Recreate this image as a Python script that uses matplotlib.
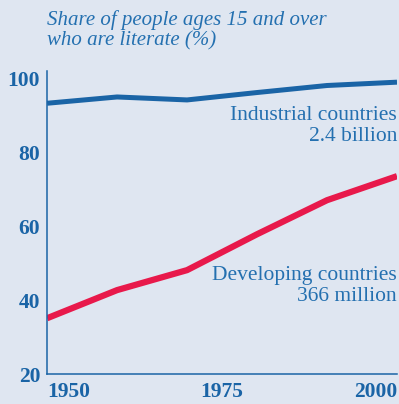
import matplotlib
matplotlib.use("Agg")
import matplotlib.pyplot as plt

years = [1950, 1960, 1970, 1980, 1990, 2000]
industrial = [93.2, 94.9, 94.1, 96.1, 98.0, 98.9]
developing = [35.1, 42.7, 48.1, 57.8, 67.0, 73.5]
y_ticks = [20, 40, 60, 80, 100]
x_ticks = [1950, 1975, 2000]

BG = "#dfe6f1"
BLUE = "#1a64a6"
RED = "#e8194b"
TEXT = "#2470b0"

plt.rcParams["font.family"] = ["Liberation Serif", "DejaVu Serif"]

fig = plt.figure(figsize=(3.99, 4.04), dpi=100, facecolor=BG)
ax = fig.add_axes([0.118, 0.074, 0.877, 0.751], facecolor=BG)

ax.plot(years, industrial, color=BLUE, lw=3.6, solid_capstyle="butt")
ax.plot(years, developing, color=RED, lw=4.5, solid_capstyle="butt")

ax.set_xlim(1950, 2000)
ax.set_ylim(20, 102)
for side in ["top", "right"]:
    ax.spines[side].set_visible(False)
for side in ["left", "bottom"]:
    ax.spines[side].set_color(BLUE)
    ax.spines[side].set_linewidth(1.1)

ax.set_yticks(y_ticks)
ax.set_yticklabels([str(v) for v in y_ticks], fontsize=15.5, fontweight="bold", color=BLUE)
ax.set_xticks(x_ticks)
ax.set_xticklabels([str(v) for v in x_ticks], fontsize=15.5, fontweight="bold", color=BLUE)
ax.tick_params(axis="y", length=0, pad=5)
ax.tick_params(axis="x", length=0, pad=6)
labels = ax.get_xticklabels()
labels[0].set_horizontalalignment("left")
labels[-1].set_horizontalalignment("right")

fig.text(0.118, 0.975, "Share of people ages 15 and over\nwho are literate (%)",
         ha="left", va="top", fontsize=15, style="italic", color=TEXT, linespacing=1.1)

ax.text(2000, 92.5, "Industrial countries\n2.4 billion", ha="right", va="top",
        fontsize=15.5, color=TEXT, linespacing=1.15)
ax.text(2000, 49.2, "Developing countries\n366 million", ha="right", va="top",
        fontsize=15.5, color=TEXT, linespacing=1.15)

fig.savefig("out.png", dpi=100, facecolor=BG)
